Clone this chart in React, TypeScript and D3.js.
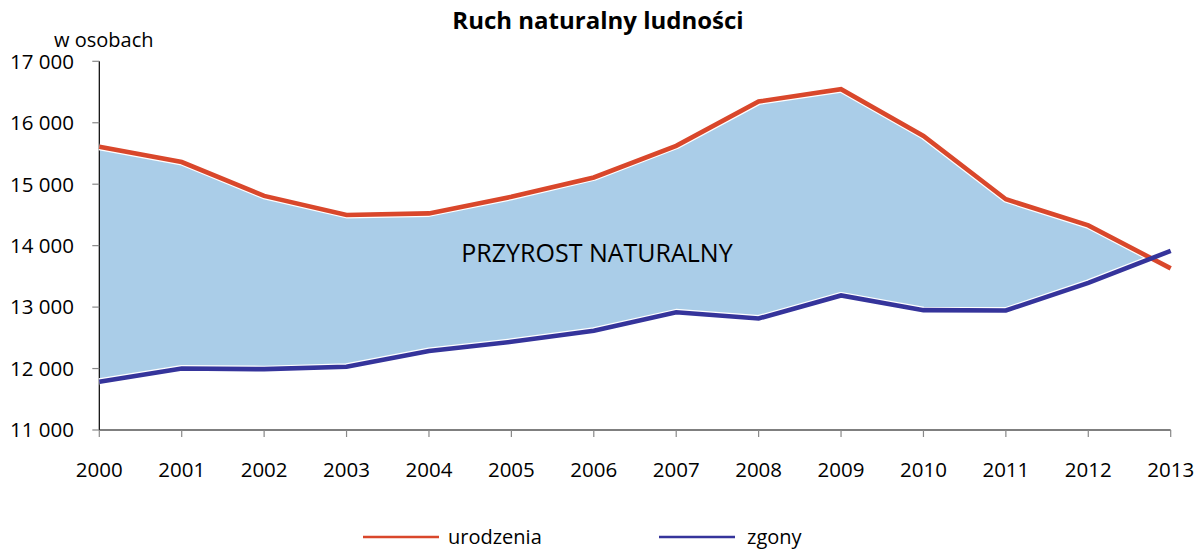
import React from 'react';
import * as d3 from 'd3';

const YEARS = [2000, 2001, 2002, 2003, 2004, 2005, 2006, 2007, 2008, 2009, 2010, 2011, 2012, 2013];
const BIRTHS = [15610, 15360, 14810, 14500, 14525, 14795, 15110, 15625, 16345, 16545, 15785, 14755, 14330, 13630];
const DEATHS = [11785, 12000, 11990, 12030, 12285, 12435, 12615, 12915, 12815, 13190, 12950, 12945, 13395, 13915];
const Y_TICKS = [11000, 12000, 13000, 14000, 15000, 16000, 17000];

const WIDTH = 1202;
const HEIGHT = 550;
const LEFT = 99.3;
const RIGHT = 1170.7;
const TOP = 61.3;
const BOTTOM = 430;

const FONT = '"Open Sans", sans-serif';
const RED = '#d9472b';
const BLUE = '#35349b';
const FILL = '#aacde8';

const fmt = d3.formatLocale({ decimal: ',', thousands: ' ', grouping: [3], currency: ['', ''] }).format(',');

export default function App() {
  const x = d3.scaleLinear().domain([YEARS[0], YEARS[YEARS.length - 1]]).range([LEFT, RIGHT]);
  const y = d3.scaleLinear().domain([11000, 17000]).range([BOTTOM, TOP]);

  const rows = YEARS.map((year, i) => ({ year, births: BIRTHS[i], deaths: DEATHS[i] }));
  type Row = (typeof rows)[number];

  const birthLine = d3.line<Row>().x(d => x(d.year)).y(d => y(d.births));
  const deathLine = d3.line<Row>().x(d => x(d.year)).y(d => y(d.deaths));
  const between = d3.area<Row>().x(d => x(d.year)).y0(d => y(d.deaths)).y1(d => y(d.births));
  const belowBirths = d3.area<Row>().x(d => x(d.year)).y0(BOTTOM).y1(d => y(d.births));

  return (
    <svg width={WIDTH} height={HEIGHT} style={{ position: 'absolute', left: 0, top: 0, background: '#fff' }}>
      <defs>
        <clipPath id="below-births">
          <path d={belowBirths(rows) ?? ''} />
        </clipPath>
      </defs>

      <text x={598} y={29} textAnchor="middle" fontFamily={FONT} fontWeight={700} fontSize={24} fill="#000">
        Ruch naturalny ludności
      </text>
      <text x={54} y={47} fontFamily={FONT} fontSize={20} fill="#000">w osobach</text>

      {/* natural increase area, only where births exceed deaths */}
      <path d={between(rows) ?? ''} fill={FILL} clipPath="url(#below-births)" />

      <text x={597} y={262} textAnchor="middle" fontFamily={FONT} fontSize={25} fill="#000">
        PRZYROST NATURALNY
      </text>

      {/* axes */}
      <line x1={LEFT} x2={LEFT} y1={TOP} y2={BOTTOM} stroke="#000" strokeWidth={1.2} />
      <line x1={LEFT} x2={RIGHT} y1={BOTTOM} y2={BOTTOM} stroke="#000" strokeWidth={1.2} />
      {Y_TICKS.map(t => (
        <g key={t}>
          <line x1={LEFT - 7} x2={LEFT} y1={y(t)} y2={y(t)} stroke="#888" strokeWidth={1.2} />
          <text x={74} y={y(t)} dy="0.36em" textAnchor="end" fontFamily={FONT} fontSize={20.5} fill="#000">
            {fmt(t)}
          </text>
        </g>
      ))}
      {YEARS.map(yr => (
        <g key={yr}>
          <line x1={x(yr)} x2={x(yr)} y1={BOTTOM} y2={BOTTOM + 7} stroke="#888" strokeWidth={1.2} />
          <text x={x(yr)} y={477} textAnchor="middle" fontFamily={FONT} fontSize={20.5} fill="#000">
            {yr}
          </text>
        </g>
      ))}

      {/* white halos, then the two series */}
      <path d={birthLine(rows) ?? ''} fill="none" stroke="#fff" strokeWidth={7} strokeLinejoin="round" />
      <path d={deathLine(rows) ?? ''} fill="none" stroke="#fff" strokeWidth={7} strokeLinejoin="round" />
      <path d={birthLine(rows) ?? ''} fill="none" stroke={RED} strokeWidth={4.6} />
      <path d={deathLine(rows) ?? ''} fill="none" stroke={BLUE} strokeWidth={4.6} />

      {/* legend */}
      <line x1={363} x2={439} y1={537} y2={537} stroke={RED} strokeWidth={2.7} />
      <text x={448} y={544} fontFamily={FONT} fontSize={20} fill="#000">urodzenia</text>
      <line x1={659} x2={735} y1={537} y2={537} stroke={BLUE} strokeWidth={2.7} />
      <text x={747} y={544} fontFamily={FONT} fontSize={20} fill="#000">zgony</text>
    </svg>
  );
}
